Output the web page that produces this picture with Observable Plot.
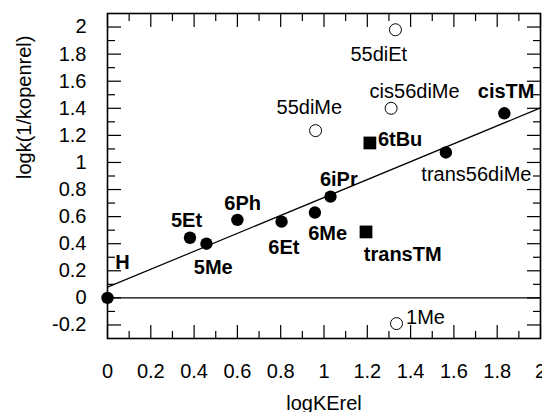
<!DOCTYPE html>
<html><head><meta charset="utf-8">
<script src="https://cdn.jsdelivr.net/npm/d3@7"></script>
<script src="https://cdn.jsdelivr.net/npm/@observablehq/plot@0.6"></script>
<style>html,body{margin:0;padding:0;background:#fff;} svg{display:block;}</style>
</head><body><div id="chart"></div>
<script>
// ---- data ----
const names      = ["H","5Et","5Me","6Ph","6Et","6Me","6iPr","trans56diMe","cisTM","6tBu","transTM","55diMe","cis56diMe","55diEt","1Me"];
const logKErel   = [0, 0.381, 0.457, 0.600, 0.804, 0.958, 1.030, 1.563, 1.833, 1.212, 1.194, 0.961, 1.310, 1.330, 1.335];
const logkOpen   = [0, 0.444, 0.400, 0.576, 0.563, 0.630, 0.748, 1.074, 1.363, 1.144, 0.487, 1.235, 1.400, 1.980, -0.190];
const markerType = ["filled","filled","filled","filled","filled","filled","filled","filled","filled","square","square","open","open","open","open"];
const boldLabel  = [true,true,true,true,true,true,true,false,true,true,true,false,false,false,false];
const fitIntercept = 0.079;
const fitSlope = 0.662;
const xTickValues = [0,0.2,0.4,0.6,0.8,1,1.2,1.4,1.6,1.8,2];
const xMinorTicks = [0.1,0.3,0.5,0.7,0.9,1.1,1.3,1.5,1.7,1.9];
const yTickValues = [-0.2,0,0.2,0.4,0.6,0.8,1,1.2,1.4,1.6,1.8,2];
const yMinorTicks = [-0.1,0.1,0.3,0.5,0.7,0.9,1.1,1.3,1.5,1.7,1.9];
const xTitle = "logKErel";
const yTitle = "logk(1/kopenrel)";

// ---- label placement (layout only) ----
const labelOffset = {
  "H":[15,-35.5], "5Et":[-3.5,-17.5], "5Me":[6.8,23.7], "6Ph":[5.3,-16.5], "6Et":[2.3,25.6],
  "6Me":[12.7,20.6], "6iPr":[8.3,-17.4], "trans56diMe":[30.5,22.5], "cisTM":[1.8,-21.9],
  "6tBu":[30.2,-3.6], "transTM":[36.7,22.7], "55diMe":[-6.2,-23.3], "cis56diMe":[23.5,-16.5],
  "55diEt":[-16.7,24.4], "1Me":[29,-6]
};

const points = names.map((n,i)=>({name:n, x:logKErel[i], y:logkOpen[i], type:markerType[i], bold:boldLabel[i]}));
const xDomain = [0, 2];
const fitLine = xDomain.map(x => ({x, y: fitIntercept + fitSlope * x}));
const FS = 20;
const font = "Liberation Sans, Arial, Helvetica, sans-serif";
const fmt = d => String(+d.toFixed(1));

const labelMarks = points.map(p => Plot.text([p], {
  x: "x", y: "y", text: "name",
  dx: labelOffset[p.name][0], dy: labelOffset[p.name][1],
  textAnchor: "middle", lineAnchor: "middle",
  fontSize: FS, fontWeight: p.bold ? "bold" : "normal", fill: "black"
}));

const chart = Plot.plot({
  width: 542, height: 412,
  marginLeft: 107, marginRight: 2, marginTop: 13, marginBottom: 74,
  style: {fontFamily: font, fontSize: FS + "px", background: "white", color: "black"},
  x: {domain: xDomain, axis: null},
  y: {domain: [-0.3, 2.1], axis: null},
  marks: [
    // tick marks, pointing inward on all four sides
    Plot.axisX(xTickValues, {anchor: "bottom", tickSize: -13, fill: "none", label: null, strokeWidth: 1.2}),
    Plot.axisX(xMinorTicks, {anchor: "bottom", tickSize: -7, fill: "none", label: null, strokeWidth: 1.2}),
    Plot.axisX(xTickValues, {anchor: "top", tickSize: -13, fill: "none", label: null, strokeWidth: 1.2}),
    Plot.axisX(xMinorTicks, {anchor: "top", tickSize: -7, fill: "none", label: null, strokeWidth: 1.2}),
    Plot.axisY(yTickValues, {anchor: "left", tickSize: -14, fill: "none", label: null, strokeWidth: 1.2}),
    Plot.axisY(yMinorTicks, {anchor: "left", tickSize: -8, fill: "none", label: null, strokeWidth: 1.2}),
    Plot.axisY(yTickValues, {anchor: "right", tickSize: -14, fill: "none", label: null, strokeWidth: 1.2}),
    Plot.axisY(yMinorTicks, {anchor: "right", tickSize: -8, fill: "none", label: null, strokeWidth: 1.2}),
    // tick labels
    Plot.axisX(xTickValues, {anchor: "bottom", tickSize: 0, tickPadding: 25, tickFormat: fmt, fontSize: FS, label: null}),
    Plot.axisY(yTickValues, {anchor: "left", tickSize: 0, tickPadding: 21, tickFormat: fmt, fontSize: FS, label: null}),
    // axis titles
    Plot.text([xTitle], {frameAnchor: "bottom", text: d => d, dy: 65, lineAnchor: "middle", fontSize: FS, fill: "black"}),
    Plot.text([yTitle], {frameAnchor: "left", text: d => d, dx: -83, dy: 3, rotate: -90, lineAnchor: "middle", fontSize: FS, fill: "black"}),
    // zero line and fit
    Plot.ruleY([0], {stroke: "black", strokeWidth: 1.2}),
    Plot.line(fitLine, {x: "x", y: "y", stroke: "black", strokeWidth: 1.2}),
    Plot.frame({stroke: "black", strokeWidth: 1.6}),
    // points
    Plot.dot(points.filter(d => d.type === "filled"), {x: "x", y: "y", r: 6.2, fill: "black", stroke: "none"}),
    Plot.dot(points.filter(d => d.type === "open"), {x: "x", y: "y", r: 6, fill: "white", stroke: "black", strokeWidth: 1}),
    Plot.dot(points.filter(d => d.type === "square"), {x: "x", y: "y", r: 7.2, symbol: "square", fill: "black", stroke: "none"}),
    ...labelMarks
  ]
});
document.getElementById("chart").appendChild(chart);
</script>
</body></html>
